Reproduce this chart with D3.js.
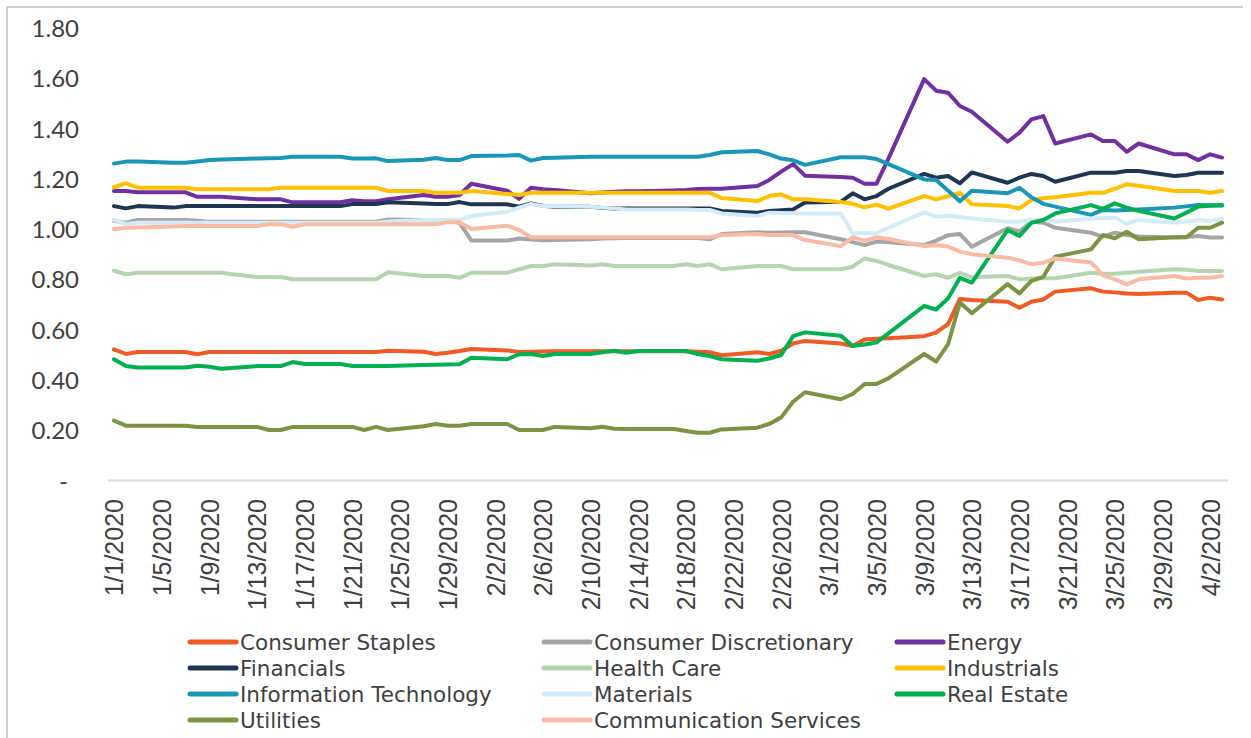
<!DOCTYPE html>
<html>
<head>
<meta charset="utf-8">
<script src="https://cdn.jsdelivr.net/npm/d3@7"></script>
<style>
  html, body { margin: 0; padding: 0; background: #ffffff; }
  svg { display: block; }
</style>
</head>
<body>
<svg id="chart" width="1251" height="738"></svg>
<script>
// ---------- DATA ----------
const dates = [
  "2020-01-01","2020-01-02","2020-01-03","2020-01-06","2020-01-07","2020-01-08","2020-01-09","2020-01-10",
  "2020-01-13","2020-01-14","2020-01-15","2020-01-16","2020-01-17","2020-01-20","2020-01-21","2020-01-22",
  "2020-01-23","2020-01-24","2020-01-27","2020-01-28","2020-01-29","2020-01-30","2020-01-31",
  "2020-02-03","2020-02-04","2020-02-05","2020-02-06","2020-02-07","2020-02-10","2020-02-11","2020-02-12",
  "2020-02-13","2020-02-14","2020-02-17","2020-02-18","2020-02-19","2020-02-20","2020-02-21","2020-02-24",
  "2020-02-25","2020-02-26","2020-02-27","2020-02-28",
  "2020-03-02","2020-03-03","2020-03-04","2020-03-05","2020-03-06","2020-03-09","2020-03-10","2020-03-11",
  "2020-03-12","2020-03-13","2020-03-16","2020-03-17","2020-03-18","2020-03-19","2020-03-20","2020-03-23",
  "2020-03-24","2020-03-25","2020-03-26","2020-03-27","2020-03-30","2020-03-31",
  "2020-04-01","2020-04-02","2020-04-03"
];

const consumerStaples = [
  .521,.503,.511,.511,.511,.502,.511,.511,.511,.511,.511,.511,.511,.511,.511,.511,.511,.516,.512,.503,.508,.515,.523,
  .517,.511,.512,.513,.514,.514,.514,.514,.514,.514,.514,.514,.512,.510,.498,.510,.503,.516,.545,.555,
  .545,.535,.561,.564,.566,.574,.588,.622,.722,.718,.711,.687,.711,.720,.751,.764,.751,.748,.744,.742,.747,.747,
  .718,.727,.720
];
const consumerDiscretionary = [
  1.033,1.025,1.036,1.036,1.036,1.033,1.029,1.029,1.029,1.029,1.029,1.029,1.029,1.029,1.029,1.029,1.029,1.038,1.036,1.034,1.034,1.025,.954,
  .954,.962,.958,.955,.956,.959,.962,.963,.964,.964,.964,.964,.964,.959,.980,.987,.985,.986,.987,.987,
  .959,.948,.936,.950,.947,.936,.954,.975,.980,.930,1.003,.990,1.029,1.025,1.005,.985,.970,.985,.976,.970,.966,.968,
  .972,.966,.966
];
const energy = [
  1.151,1.151,1.146,1.146,1.146,1.128,1.128,1.128,1.118,1.118,1.118,1.106,1.106,1.106,1.114,1.110,1.110,1.118,1.135,1.128,1.128,1.135,1.180,
  1.152,1.120,1.164,1.158,1.155,1.142,1.145,1.148,1.150,1.150,1.153,1.155,1.159,1.160,1.160,1.171,1.195,1.228,1.258,1.212,
  1.207,1.204,1.180,1.180,1.280,1.596,1.550,1.542,1.489,1.466,1.347,1.383,1.436,1.449,1.340,1.376,1.350,1.350,1.307,1.340,1.297,1.297,
  1.274,1.297,1.284
];
const financials = [
  1.091,1.082,1.091,1.085,1.091,1.091,1.091,1.091,1.091,1.091,1.091,1.091,1.091,1.091,1.099,1.099,1.099,1.106,1.101,1.099,1.099,1.107,1.098,
  1.098,1.089,1.102,1.092,1.088,1.088,1.084,1.082,1.082,1.082,1.082,1.082,1.082,1.082,1.072,1.065,1.072,1.075,1.078,1.105,
  1.108,1.142,1.118,1.131,1.160,1.219,1.204,1.211,1.182,1.225,1.184,1.204,1.219,1.211,1.188,1.224,1.224,1.224,1.231,1.231,1.211,1.215,
  1.224,1.224,1.224
];
const healthCare = [
  .834,.820,.826,.826,.826,.826,.826,.826,.809,.809,.809,.800,.800,.800,.800,.800,.800,.828,.813,.813,.813,.806,.826,
  .826,.840,.853,.853,.860,.855,.860,.853,.853,.853,.853,.860,.853,.860,.840,.853,.853,.853,.840,.840,
  .840,.850,.883,.873,.857,.813,.820,.806,.826,.808,.813,.800,.803,.804,.804,.826,.822,.822,.826,.830,.840,.838,
  .833,.833,.833
];
const industrials = [
  1.166,1.182,1.164,1.164,1.164,1.158,1.158,1.158,1.158,1.158,1.164,1.164,1.164,1.164,1.164,1.164,1.164,1.151,1.151,1.144,1.144,1.144,1.151,
  1.139,1.135,1.144,1.144,1.144,1.144,1.144,1.144,1.144,1.144,1.144,1.144,1.144,1.144,1.123,1.111,1.131,1.138,1.118,1.118,
  1.107,1.100,1.086,1.097,1.081,1.131,1.118,1.130,1.144,1.098,1.091,1.082,1.115,1.122,1.126,1.144,1.144,1.160,1.178,1.172,1.151,1.151,
  1.151,1.144,1.151
];
const infoTech = [
  1.260,1.268,1.268,1.263,1.263,1.268,1.274,1.276,1.280,1.281,1.282,1.287,1.287,1.287,1.280,1.280,1.281,1.270,1.275,1.282,1.274,1.274,1.290,
  1.292,1.294,1.272,1.282,1.283,1.287,1.287,1.287,1.287,1.287,1.287,1.287,1.287,1.294,1.305,1.310,1.297,1.280,1.273,1.255,
  1.285,1.285,1.285,1.278,1.258,1.197,1.195,1.153,1.110,1.152,1.142,1.164,1.126,1.100,1.089,1.056,1.076,1.074,1.076,1.078,1.085,1.090,
  1.095,1.094,1.093
];
const materials = [
  1.036,1.020,1.025,1.025,1.025,1.025,1.025,1.025,1.025,1.025,1.025,1.025,1.025,1.025,1.025,1.025,1.025,1.030,1.036,1.036,1.036,1.036,1.052,
  1.069,1.085,1.100,1.091,1.090,1.088,1.085,1.082,1.078,1.078,1.078,1.078,1.076,1.076,1.062,1.052,1.065,1.064,1.063,1.062,
  1.062,.983,.983,.983,1.005,1.066,1.049,1.053,1.048,1.042,1.029,1.029,1.036,1.037,1.029,1.042,1.044,1.046,1.020,1.036,1.025,1.030,
  1.036,1.032,1.040
];
const realEstate = [
  .482,.455,.449,.449,.449,.456,.452,.444,.455,.455,.455,.471,.463,.463,.455,.455,.455,.455,.459,.460,.461,.462,.488,
  .482,.502,.503,.495,.503,.503,.510,.516,.508,.515,.515,.515,.503,.495,.482,.476,.485,.499,.574,.589,
  .576,.535,.541,.549,.585,.694,.680,.724,.806,.787,.996,.972,1.025,1.036,1.062,1.095,1.080,1.102,1.085,1.072,1.042,1.065,
  1.089,1.092,1.095
];
const utilities = [
  .238,.218,.218,.218,.218,.213,.213,.213,.213,.201,.201,.213,.213,.213,.213,.201,.213,.201,.216,.225,.218,.218,.225,
  .225,.201,.201,.201,.213,.208,.214,.206,.205,.205,.205,.197,.190,.190,.203,.210,.225,.251,.313,.351,
  .323,.344,.384,.384,.406,.503,.473,.541,.708,.665,.781,.744,.794,.810,.890,.919,.976,.963,.989,.959,.967,.967,
  1.005,1.005,1.025
];
const commServices = [
  .999,1.005,1.006,1.010,1.012,1.012,1.012,1.012,1.012,1.019,1.019,1.009,1.019,1.019,1.019,1.019,1.019,1.019,1.019,1.019,1.027,1.027,1.000,
  1.013,.996,.967,.967,.967,.967,.967,.967,.967,.967,.967,.967,.967,.967,.976,.980,.976,.976,.976,.956,
  .932,.967,.954,.967,.960,.932,.935,.930,.910,.900,.886,.875,.860,.866,.883,.867,.817,.800,.780,.800,.813,.803,
  .806,.806,.813
];

const seriesNames = ["Consumer Staples","Consumer Discretionary","Energy","Financials","Health Care",
  "Industrials","Information Technology","Materials","Real Estate","Utilities","Communication Services"];
const seriesValues = [consumerStaples, consumerDiscretionary, energy, financials, healthCare,
  industrials, infoTech, materials, realEstate, utilities, commServices];
const seriesColors = ["#f15a24","#a5a5a5","#7030a0","#1f3552","#b5d5b0",
  "#ffc000","#1a97b6","#d2ebf7","#00b050","#7b9444","#f8bba5"];

const yTicks = [0, 0.2, 0.4, 0.6, 0.8, 1.0, 1.2, 1.4, 1.6, 1.8];
const xTickLabels = ["1/1/2020","1/5/2020","1/9/2020","1/13/2020","1/17/2020","1/21/2020","1/25/2020","1/29/2020",
  "2/2/2020","2/6/2020","2/10/2020","2/14/2020","2/18/2020","2/22/2020","2/26/2020","3/1/2020","3/5/2020",
  "3/9/2020","3/13/2020","3/17/2020","3/21/2020","3/25/2020","3/29/2020","4/2/2020"];

// ---------- CHART ----------
const svg = d3.select("#chart");
const parse = d3.utcParse("%Y-%m-%d");
const parseLabel = d3.utcParse("%m/%d/%Y");
const dateObjs = dates.map(parse);
const HALF_DAY = 12 * 3600 * 1000;

const x = d3.scaleUtc()
  .domain([new Date(dateObjs[0].getTime() - HALF_DAY), new Date(dateObjs[dateObjs.length - 1].getTime() + HALF_DAY)])
  .range([108, 1228]);
const y = d3.scaleLinear().domain([0, 1.8]).range([480.5, 27.8]);

// outer border (left + top)
svg.append("path")
  .attr("d", "M7,740 L7,7 L1243,7")
  .attr("fill", "none")
  .attr("stroke", "#bfbfbf")
  .attr("stroke-width", 1.5);

// y axis labels
const yAxis = d3.axisLeft(y)
  .tickValues(yTicks)
  .tickSize(0)
  .tickFormat(d => d === 0 ? "-" : d3.format(".2f")(d));
const yG = svg.append("g").attr("transform", "translate(79,0)").call(yAxis);
yG.select(".domain").remove();
yG.selectAll("text")
  .attr("x", d => d === 0 ? -11 : 0)
  .attr("dy", "0.36em")
  .attr("font-family", "Lato, 'Open Sans', sans-serif")
  .attr("font-size", 24)
  .attr("fill", "#404040");

// x axis line
svg.append("line")
  .attr("x1", x.range()[0]).attr("x2", x.range()[1])
  .attr("y1", y(0)).attr("y2", y(0))
  .attr("stroke", "#d9d9d9").attr("stroke-width", 2);

// x axis labels
const xTickDates = xTickLabels.map(parseLabel);
const xAxis = d3.axisBottom(x)
  .tickValues(xTickDates)
  .tickSize(0)
  .tickFormat((d, i) => xTickLabels[i]);
const xG = svg.append("g").attr("transform", `translate(0,${y(0)})`).call(xAxis);
xG.select(".domain").remove();
xG.selectAll("text")
  .attr("transform", "rotate(-90)")
  .attr("text-anchor", "end")
  .attr("x", -18.5)
  .attr("y", 0)
  .attr("dy", "0.36em")
  .attr("font-family", "'Liberation Sans', Arial, sans-serif")
  .attr("font-size", 25)
  .attr("fill", "#404040");

// lines
const line = d3.line()
  .x((d, i) => x(dateObjs[i]))
  .y(d => y(d));

svg.append("g").selectAll("path")
  .data(seriesValues)
  .join("path")
  .attr("d", d => line(d))
  .attr("fill", "none")
  .attr("stroke", (d, i) => seriesColors[i])
  .attr("stroke-width", 4)
  .attr("stroke-linejoin", "round")
  .attr("stroke-linecap", "round");

// legend
const legendCols = [190, 544, 897];
const legendRows = [642, 668, 694, 720];
const leg = svg.append("g");
seriesNames.forEach((name, i) => {
  const cx = legendCols[i % 3];
  const cy = legendRows[Math.floor(i / 3)];
  const g = leg.append("g").attr("transform", `translate(${cx},${cy})`);
  g.append("line")
    .attr("x1", 0).attr("x2", 46).attr("y1", 0).attr("y2", 0)
    .attr("stroke", seriesColors[i]).attr("stroke-width", 5)
    .attr("stroke-linecap", "round");
  g.append("text")
    .attr("x", 50).attr("y", 0).attr("dy", "0.36em")
    .attr("font-family", "'DejaVu Sans', sans-serif")
    .attr("font-size", 21.5)
    .attr("fill", "#404040")
    .text(name);
});
</script>
</body>
</html>
